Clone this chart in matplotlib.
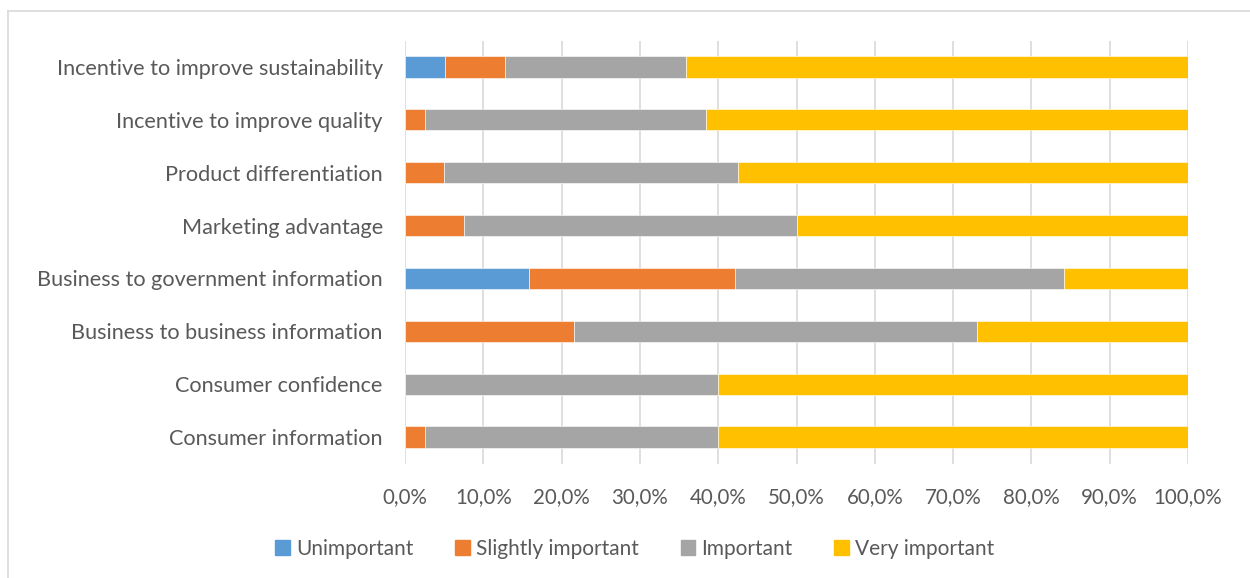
import matplotlib
matplotlib.use('Agg')
import matplotlib.pyplot as plt
from matplotlib.lines import Line2D
from matplotlib.ticker import FuncFormatter
import numpy as np

# categories from top to bottom as in the chart
CATEGORIES = ['Incentive to improve sustainability', 'Incentive to improve quality',
              'Product differentiation', 'Marketing advantage',
              'Business to government information', 'Business to business information',
              'Consumer confidence', 'Consumer information']

# shares in percent
UNIMPORTANT = [5.1, 0.0, 0.0, 0.0, 15.8, 0.0, 0.0, 0.0]
SLIGHTLY    = [7.7, 2.6, 5.0, 7.5, 26.3, 21.6, 0.0, 2.5]
IMPORTANT   = [23.1, 35.9, 37.5, 42.5, 42.1, 51.4, 40.0, 37.5]
VERY        = [64.1, 61.5, 57.5, 50.0, 15.8, 27.0, 60.0, 60.0]

SERIES = ['Unimportant', 'Slightly important', 'Important', 'Very important']
COLORS = ['#5B9BD5', '#ED7D31', '#A5A5A5', '#FFC000']

TXT = '#595959'
plt.rcParams['font.family'] = ['Lato', 'DejaVu Sans']

fig = plt.figure(figsize=(12.5, 5.78), dpi=100)
ax = fig.add_axes([405 / 1250, 1 - 463.5 / 578, 783 / 1250, 423 / 578])

y = np.arange(len(CATEGORIES))
left = np.zeros(len(CATEGORIES))
for vals, name, col in zip([UNIMPORTANT, SLIGHTLY, IMPORTANT, VERY], SERIES, COLORS):
    vals = np.array(vals)
    ax.barh(y, vals, left=left, height=0.4, color=col, label=name,
            edgecolor='white', linewidth=0.4, zorder=3)
    left += vals

ax.set_ylim(len(CATEGORIES) - 0.5, -0.5)
ax.set_xlim(0, 100)
ax.set_xticks(np.arange(0, 101, 10))
ax.xaxis.set_major_formatter(FuncFormatter(lambda v, p: f'{v:.1f}%'.replace('.', ',')))
ax.set_yticks(y)
ax.set_yticklabels(CATEGORIES)
ax.tick_params(axis='both', length=0, labelcolor=TXT)
ax.tick_params(axis='y', labelsize=15.6, pad=16)
ax.tick_params(axis='x', labelsize=14.8, pad=17)
ax.grid(axis='x', color='#D9D9D9', linewidth=1.2, zorder=0)
for s in ax.spines.values():
    s.set_visible(False)

handles = [plt.Rectangle((0, 0), 1, 1, color=c) for c in COLORS]
fig.legend(handles, SERIES, loc='center', bbox_to_anchor=(635 / 1250, 1 - 549 / 578),
           ncol=4, frameon=False, fontsize=15, labelcolor=TXT,
           handlelength=0.7, handleheight=0.7, handletextpad=0.3, columnspacing=2.0)

# chart area border
fig.add_artist(Line2D([8 / 1250, 8 / 1250], [0, 1 - 11 / 578], transform=fig.transFigure,
                      color='#D9D9D9', linewidth=1.2))
fig.add_artist(Line2D([8 / 1250, 1], [1 - 11 / 578, 1 - 11 / 578], transform=fig.transFigure,
                      color='#D9D9D9', linewidth=1.2))

fig.savefig('out.png', dpi=100)
